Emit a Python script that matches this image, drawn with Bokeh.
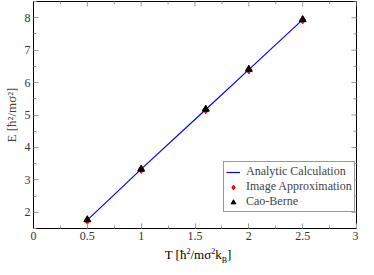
import math
from bokeh.plotting import figure
from bokeh.layouts import column
from bokeh.models import LinearAxis, Range1d, FixedTicker, Legend, LegendItem, Div
from bokeh.embed import file_html
from bokeh.resources import INLINE

T = [0.5, 1.0, 1.6, 2.0, 2.5]
E_analytic = [1.76, 3.33, 5.17, 6.40, 7.94]
E_image = [1.75, 3.32, 5.16, 6.39, 7.93]
E_cao = [1.77, 3.33, 5.18, 6.41, 7.94]

x_ticks = [0, 0.5, 1, 1.5, 2, 2.5, 3]
x_minor = [0.25, 0.75, 1.25, 1.75, 2.25, 2.75]
y_ticks = [2, 3, 4, 5, 6, 7, 8]
y_minor = [1.5, 2.5, 3.5, 4.5, 5.5, 6.5, 7.5, 8.5]

X0, X1, Y0, Y1 = 0, 3, 1.5, 8.5
FONT = "Liberation Serif"
TICK = "#999999"

p = figure(width=358, height=244, output_backend="svg", toolbar_location=None,
           x_range=Range1d(X0, X1), y_range=Range1d(Y0, Y1),
           x_axis_location=None, y_axis_location=None,
           min_border_left=24, min_border_right=2, min_border_top=1, min_border_bottom=16)
p.grid.visible = False
p.outline_line_color = "black"
p.outline_line_width = 1
p.background_fill_color = "white"


def style_axis(ax, ticks, minor):
    ax.ticker = FixedTicker(ticks=ticks, minor_ticks=minor)
    ax.axis_line_color = "black"
    ax.axis_line_width = 1
    ax.major_tick_in = 5
    ax.major_tick_out = 0
    ax.minor_tick_in = 3
    ax.minor_tick_out = 0
    ax.major_tick_line_color = TICK
    ax.minor_tick_line_color = TICK
    ax.major_label_text_font = FONT
    ax.major_label_text_font_size = "12px"
    ax.major_label_text_color = "#333333"
    ax.axis_label_text_font = FONT
    ax.axis_label_text_font_size = "13px"
    ax.axis_label_text_font_style = "normal"


xb = LinearAxis()
style_axis(xb, x_ticks, x_minor)
xb.major_label_standoff = 3
p.add_layout(xb, "below")

yl = LinearAxis(axis_label="E [ħ²/mσ²]")
style_axis(yl, y_ticks, y_minor)
yl.major_label_standoff = 3
yl.axis_label_standoff = 3
p.add_layout(yl, "left")

# mirrored ticks on the top and right frame edges (clipped to the frame)
p.scatter(x_ticks, [Y1] * len(x_ticks), marker="dash", angle=math.pi / 2, size=10, line_color=TICK)
p.scatter(x_minor, [Y1] * len(x_minor), marker="dash", angle=math.pi / 2, size=6, line_color=TICK)
p.scatter([X1] * len(y_ticks), y_ticks, marker="dash", size=10, line_color=TICK)
p.scatter([X1] * len(y_minor), y_minor, marker="dash", size=6, line_color=TICK)

r_line = p.line(T, E_analytic, line_color="#0000ff", line_width=1.2)
r_img = p.scatter(T, E_image, marker="diamond", size=8, fill_color="#ff0000", line_color="#ff0000")
r_cao = p.scatter(T, E_cao, marker="triangle", size=7, fill_color="black", line_color="black")

legend = Legend(items=[
    LegendItem(label="Analytic Calculation", renderers=[r_line]),
    LegendItem(label="Image Approximation", renderers=[r_img]),
    LegendItem(label="Cao-Berne", renderers=[r_cao]),
], location=(190, 16))
legend.label_text_font = FONT
legend.label_text_font_size = "12px"
legend.label_text_line_height = 1.0
legend.label_height = 12
legend.glyph_height = 12
legend.glyph_width = 14
legend.spacing = 0
legend.padding = 2
legend.margin = 0
legend.label_standoff = 6
legend.border_line_color = "#333333"
legend.border_line_width = 1
legend.background_fill_alpha = 1
p.add_layout(legend, "center")

xlabel = Div(text="T [ħ<sup style='font-size:8px'>2</sup>/mσ<sup style='font-size:8px'>2</sup>k<sub style='font-size:8px'>B</sub>]",
             width=358, height=15, margin=0,
             styles={"font-family": FONT, "font-size": "13px", "text-align": "center",
                     "padding-left": "38px", "line-height": "15px", "color": "black"})

layout = column(p, xlabel, spacing=0)
open("out.html", "w").write(file_html(layout, INLINE))
